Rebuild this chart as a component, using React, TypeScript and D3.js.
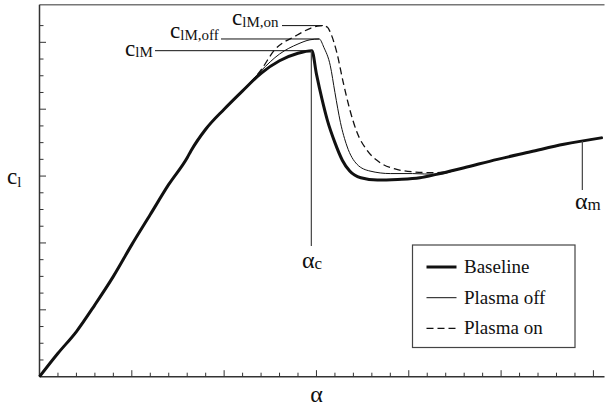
import React from "react";
import * as d3 from "d3";

// Angle of attack (deg) and lift coefficient for each configuration
const alphaBaseline = [0, 1, 2, 3, 4, 5, 6, 7, 8, 8.2, 9, 10, 11, 12, 13, 14, 14.75, 15, 15.3, 15.6, 16, 16.4, 16.8, 17.4, 18.3, 19.4, 20.6, 21.5, 23, 24.8, 26.6, 28.4, 30.5];
const clBaseline = [0, 0.14, 0.27, 0.43, 0.6, 0.79, 0.97, 1.15, 1.31, 1.35, 1.48, 1.6, 1.71, 1.815, 1.89, 1.935, 1.95, 1.81, 1.66, 1.53, 1.4, 1.295, 1.23, 1.19, 1.176, 1.18, 1.19, 1.21, 1.25, 1.3, 1.345, 1.39, 1.43];

const alphaPlasmaOff = [0, 1, 2, 3, 4, 5, 6, 7, 8, 8.2, 9, 10, 11, 12, 13, 14, 14.65, 15.15, 15.4, 15.75, 16, 16.3, 16.65, 17.2, 17.9, 19, 20.2, 21.5, 23, 24.8, 26.6, 28.4, 30.5];
const clPlasmaOff = [0, 0.14, 0.27, 0.43, 0.6, 0.79, 0.97, 1.15, 1.31, 1.35, 1.48, 1.6, 1.71, 1.83, 1.93, 1.99, 2.015, 2.02, 1.97, 1.86, 1.7, 1.52, 1.38, 1.27, 1.23, 1.215, 1.215, 1.21, 1.25, 1.3, 1.345, 1.39, 1.43];

const alphaPlasmaOn = [0, 1, 2, 3, 4, 5, 6, 7, 8, 8.2, 9, 10, 11, 12, 12.7, 13.9, 14.7, 15.05, 15.35, 15.6, 15.75, 16.1, 16.45, 16.8, 17.2, 17.7, 18.45, 19.35, 20.25, 21.3, 22, 23, 24.8, 26.6, 28.4, 30.5];
const clPlasmaOn = [0, 0.14, 0.27, 0.43, 0.6, 0.79, 0.97, 1.15, 1.31, 1.35, 1.48, 1.6, 1.71, 1.835, 1.95, 2.04, 2.085, 2.097, 2.1, 2.09, 2.06, 1.94, 1.76, 1.6, 1.46, 1.36, 1.28, 1.24, 1.225, 1.22, 1.225, 1.25, 1.3, 1.345, 1.39, 1.43];

const legendLabels = ["Baseline", "Plasma off", "Plasma on"];
const alphaM = 29.4;

const alphaTicks = d3.range(1, 31);
const clTicks = d3.range(1, 22).map((i) => i / 10);

const W = 606;
const H = 406;
const FONT = '"Liberation Serif", "DejaVu Serif", serif';

export default function App() {
  const x = d3.scaleLinear().domain([0, 30.6]).range([39.5, 604.5]);
  const y = d3.scaleLinear().domain([0, 2.225]).range([376.7, 4.7]);

  const toPts = (a: number[], c: number[]) => a.map((v, i) => [v, c[i]] as [number, number]);
  const line = d3
    .line<[number, number]>()
    .x((d) => x(d[0]))
    .y((d) => y(d[1]))
    .curve(d3.curveMonotoneX);

  const base = toPts(alphaBaseline, clBaseline);
  const off = toPts(alphaPlasmaOff, clPlasmaOff);
  const on = toPts(alphaPlasmaOn, clPlasmaOn);

  const peak = (pts: [number, number][]) => pts[d3.maxIndex(pts, (d) => d[1])];
  const pBase = peak(base);
  const pOff = peak(off);
  const pOn = peak(on);

  const clAtM = d3.scaleLinear().domain(alphaBaseline).range(clBaseline)(alphaM);

  const ink = "#111";
  const axisCol = "#333";
  const txt = { fontFamily: FONT };

  const series = [
    { pts: base, width: 3, dash: undefined as string | undefined },
    { pts: off, width: 1, dash: undefined },
    { pts: on, width: 1.3, dash: "7,4" },
  ];

  return (
    <div style={{ position: "absolute", left: 0, top: 0 }}>
      <svg width={W} height={H} style={{ display: "block", background: "#fff" }}>
        {/* frame top */}
        <line x1={x(0)} x2={x(30.6)} y1={y(2.225)} y2={y(2.225)} stroke="#777" strokeWidth={1.5} />
        {/* axes */}
        <line x1={x(0)} x2={x(0)} y1={y(0)} y2={y(2.225)} stroke={axisCol} strokeWidth={1.5} />
        <line x1={x(0)} x2={x(30.6)} y1={y(0)} y2={y(0)} stroke={axisCol} strokeWidth={1.5} />
        {alphaTicks.map((t) => (
          <line key={"xt" + t} x1={x(t)} x2={x(t)} y1={y(0)} y2={y(0) - (t % 5 === 0 ? 6.5 : 4)} stroke={axisCol} strokeWidth={1} />
        ))}
        {clTicks.map((t, i) => (
          <line key={"yt" + t} x1={x(0)} x2={x(0) + ((i + 1) % 4 === 0 ? 6.5 : 4)} y1={y(t)} y2={y(t)} stroke={axisCol} strokeWidth={1} />
        ))}

        {/* curves */}
        {series.map((s, i) => (
          <path key={i} d={line(s.pts) || ""} fill="none" stroke={ink} strokeWidth={s.width} strokeDasharray={s.dash} strokeLinejoin="round" />
        ))}

        {/* peak leaders */}
        <line x1={155} x2={x(pBase[0])} y1={y(pBase[1])} y2={y(pBase[1])} stroke={ink} strokeWidth={1} />
        <line x1={221} x2={x(pOff[0])} y1={y(pOff[1])} y2={y(pOff[1])} stroke={ink} strokeWidth={1} />
        <line x1={282} x2={x(pOn[0])} y1={y(pOn[1])} y2={y(pOn[1])} stroke={ink} strokeWidth={1} />
        <text x={125} y={y(pBase[1]) + 5} fill={ink} style={txt}>
          <tspan fontSize={23}>c</tspan>
          <tspan fontSize={15} dy={1}>lM</tspan>
        </text>
        <text x={170} y={y(pOff[1]) - 1} fill={ink} style={txt}>
          <tspan fontSize={23}>c</tspan>
          <tspan fontSize={15} dy={2}>lM,off</tspan>
        </text>
        <text x={232} y={y(pOn[1]) - 1} fill={ink} style={txt}>
          <tspan fontSize={23}>c</tspan>
          <tspan fontSize={15} dy={2}>lM,on</tspan>
        </text>

        {/* alpha_c and alpha_m markers */}
        <line x1={x(pBase[0]) - 0.5} x2={x(pBase[0]) - 0.5} y1={y(pBase[1])} y2={246} stroke="#444" strokeWidth={1.2} />
        <text x={302} y={268} fill={ink} style={txt}>
          <tspan fontSize={24}>α</tspan>
          <tspan fontSize={17} dy={1}>c</tspan>
        </text>
        <line x1={x(alphaM)} x2={x(alphaM)} y1={y(clAtM)} y2={190} stroke="#444" strokeWidth={1.2} />
        <text x={575} y={209} fill={ink} style={txt}>
          <tspan fontSize={24}>α</tspan>
          <tspan fontSize={17} dy={1}>m</tspan>
        </text>

        {/* axis titles */}
        <text x={x(15)} y={402} textAnchor="middle" fontSize={24} fill={ink} style={txt}>α</text>
        <text x={7} y={184} fill={ink} style={txt}>
          <tspan fontSize={23}>c</tspan>
          <tspan fontSize={15} dy={3}>l</tspan>
        </text>

        {/* legend */}
        <rect x={412.5} y={245} width={162.5} height={102.5} fill="#fff" stroke="#444" strokeWidth={1.2} />
        {legendLabels.map((lab, i) => {
          const ly = 267 + i * 30.7;
          const s = series[i];
          return (
            <g key={lab}>
              <line x1={426.5} x2={456.5} y1={ly} y2={ly} stroke={ink} strokeWidth={s.width} strokeDasharray={s.dash} />
              <text x={464} y={ly + 6} fontSize={19} fill={ink} style={txt}>{lab}</text>
            </g>
          );
        })}
      </svg>
    </div>
  );
}
